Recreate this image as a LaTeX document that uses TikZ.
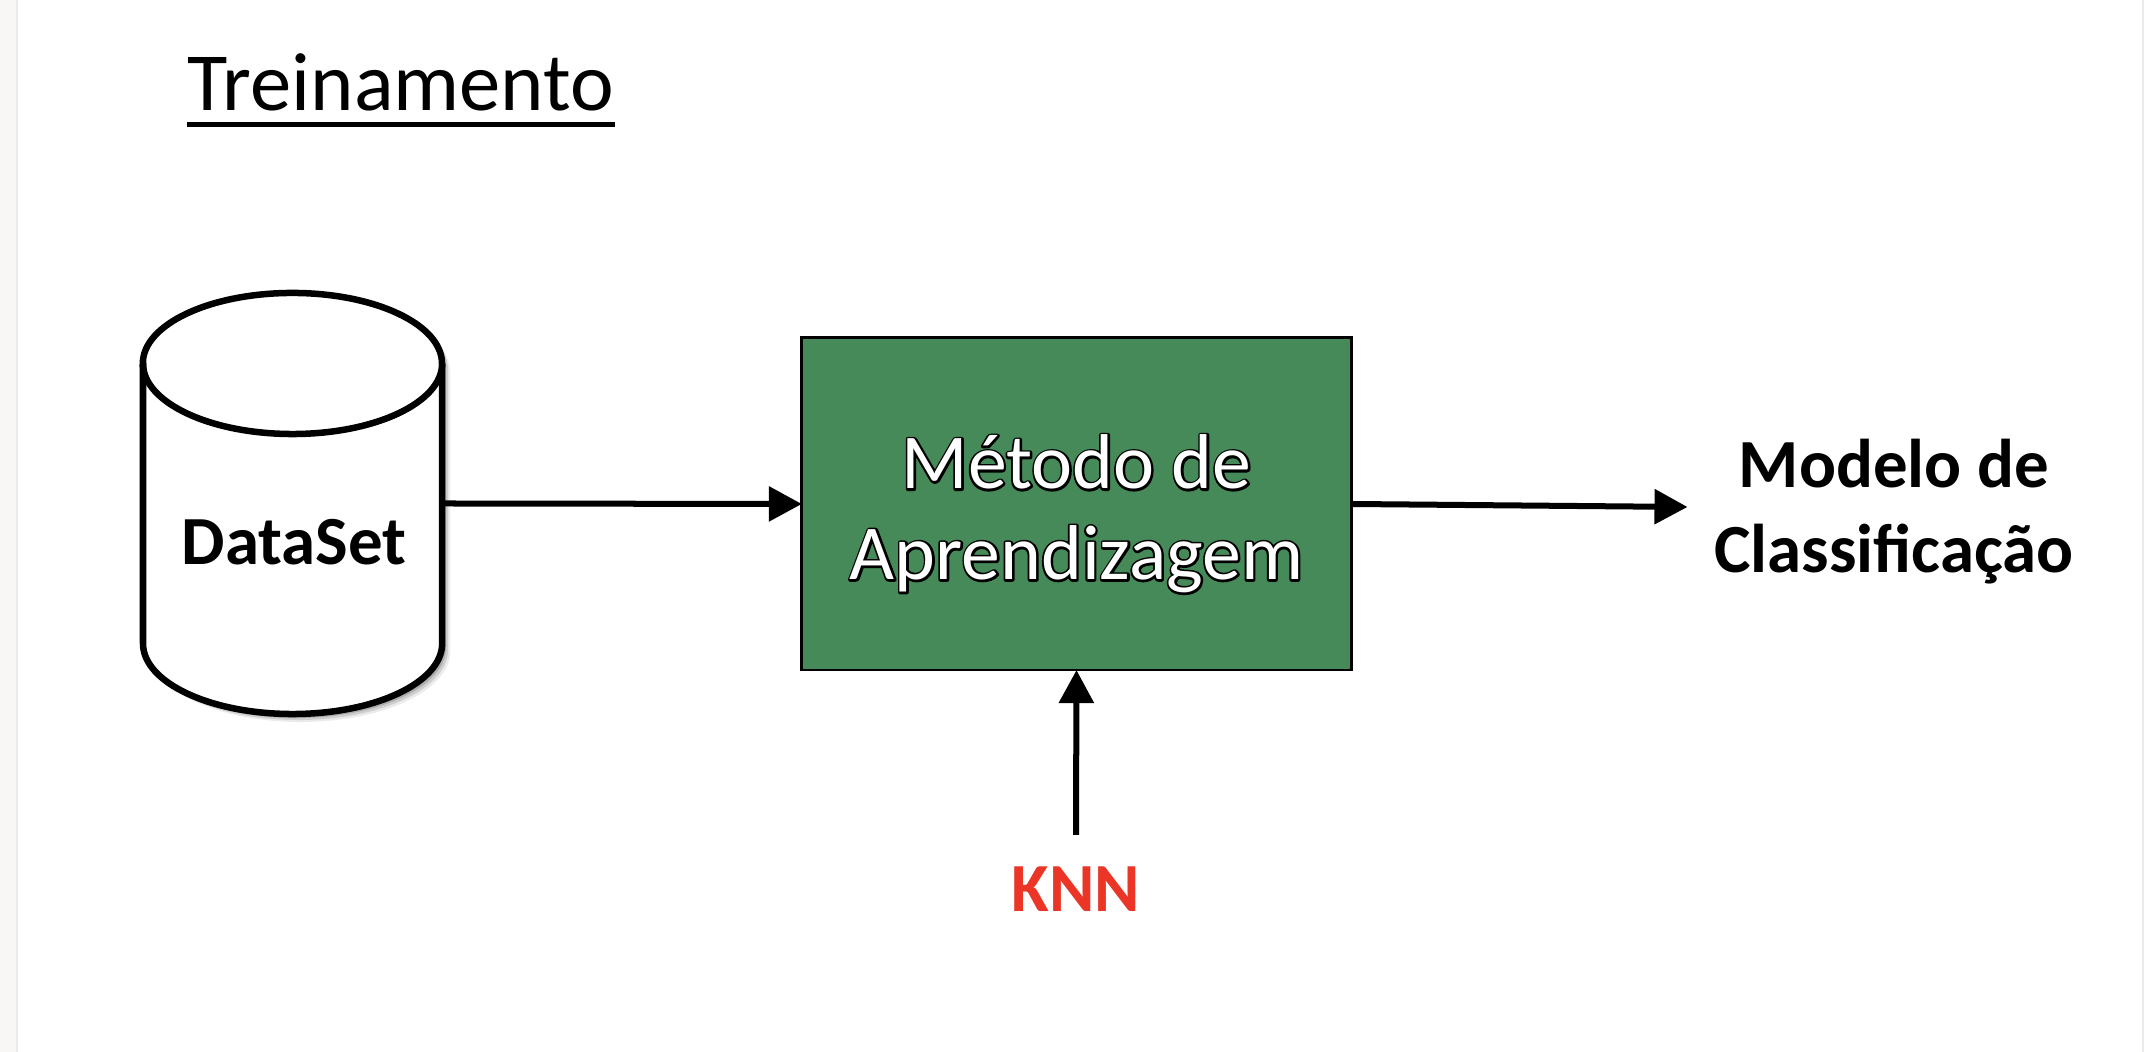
\documentclass[tikz,border=0pt]{standalone}
\usepackage{fontspec}
\setmainfont{Carlito}
\usetikzlibrary{arrows.meta}
\definecolor{boxgreen}{RGB}{70,138,89}
\definecolor{knnred}{RGB}{234,53,39}
\definecolor{sidegrey}{RGB}{248,247,245}
\definecolor{sideline}{RGB}{236,234,231}
\newcommand{\outlinedtext}[1]{\rlap{\special{pdf:code 0 G 1.2 w 1 j 1 Tr}#1\special{pdf:code 0 Tr}}{\color{white}#1}}
\tikzset{
  arr/.style={line width=0.06cm, -{Triangle[length=0.33cm,width=0.34cm]}},
  lbl/.style={font=\fontsize{19.6pt}{24.2pt}\selectfont\bfseries, align=center, inner sep=0pt},
  method/.style={draw=black, line width=0.028cm, fill=boxgreen, outer sep=0pt,
    minimum width=5.49cm, minimum height=3.32cm},
  methodtext/.style={text=white, align=center, inner sep=0pt,
    font=\fontsize{22.1pt}{25.8pt}\selectfont},
}
\begin{document}
\begin{tikzpicture}[x=0.01cm,y=0.01cm]
\useasboundingbox (0,0) rectangle (2144,1052);
\fill[white] (0,0) rectangle (2144,1052);
\fill[sidegrey] (0,0) rectangle (18,1052);
\fill[sideline] (16,0) rectangle (18,1052);
\fill[sideline] (2142,0) rectangle (2144,1052);

% title
\node[anchor=base west, inner sep=0pt, font=\fontsize{23.5pt}{28pt}\selectfont] (title) at (187,941) {Treinamento};
\draw[line width=0.05cm] ([yshift=-0.14cm]title.base west) -- ([yshift=-0.14cm]title.base east);

% cylinder (DataSet)
\node[minimum width=2.99cm, minimum height=4.21cm, inner sep=0pt, outer sep=0pt] (ds) at (292.5,548.5) {};
\foreach \s/\o in {8/0.08,6/0.12,4/0.16}{
  \fill[black, opacity=\o] (143+\s,688.5-\s) -- (143+\s,408.5-\s)
    arc[start angle=180, end angle=360, x radius=1.495cm, y radius=0.705cm]
    -- (442+\s,688.5-\s)
    arc[start angle=0, end angle=180, x radius=1.495cm, y radius=0.705cm] -- cycle;
}
\filldraw[fill=white, draw=black, line width=0.065cm] (143,688.5) -- (143,408.5)
  arc[start angle=180, end angle=360, x radius=1.495cm, y radius=0.705cm]
  -- (442,688.5)
  arc[start angle=0, end angle=180, x radius=1.495cm, y radius=0.705cm] -- cycle;
\draw[line width=0.065cm] (143,688.5)
  arc[start angle=180, end angle=360, x radius=1.495cm, y radius=0.705cm];
\node[lbl, anchor=base] (dstext) at (294,487) {DataSet};

% method box
\node[method] (box) at (1076.5,548) {};
\node[methodtext] (mtext) at ([yshift=-0.1cm]box.center) {\outlinedtext{Método de}\\\outlinedtext{Aprendizagem}};

% output label
\node[lbl, inner xsep=0.26cm] (mc) at (1894,540) {Modelo de\\Classificação};

% KNN
\node[lbl, anchor=base, text=knnred] (knn) at (1076,140) {KNN};
\coordinate (knntop) at (1076,217);

% connectors
\draw[arr] (ds.east) -- (box.west);
\draw[arr] (box.east) -- ([yshift=-0.03cm]box.east -| mc.west);
\draw[arr] (knntop) -- (box.south);
\end{tikzpicture}
\end{document}
